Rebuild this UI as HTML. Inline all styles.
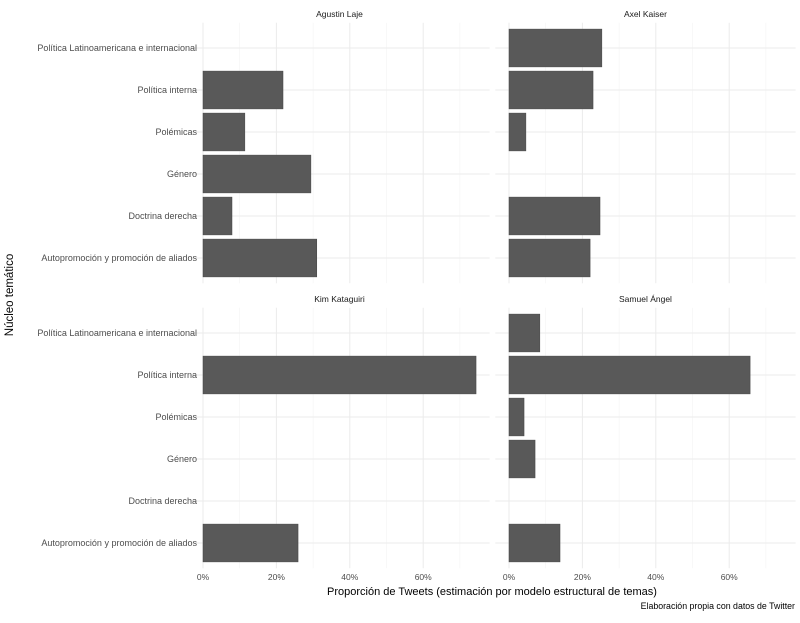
<!DOCTYPE html>
<html><head><meta charset="utf-8"><style>
body{margin:0;background:#fff;}
svg text{font-family:"Liberation Sans",sans-serif;}
</style></head><body>
<svg id="chart" width="800" height="618" xmlns="http://www.w3.org/2000/svg"></svg>
<script>
const categories=["Política Latinoamericana e internacional","Política interna","Polémicas","Género","Doctrina derecha","Autopromoción y promoción de aliados"];
const panels=["Agustin Laje","Axel Kaiser","Kim Kataguiri","Samuel Ángel"];
const valsAgustin=[0,21.8,11.4,29.4,7.9,31.0];
const valsAxel=[25.3,22.9,4.6,0,24.8,22.1];
const valsKim=[0,74.4,0,0,0,25.9];
const valsSamuel=[8.4,65.7,4.1,7.1,0,13.9];
const tickVals=[0,20,40,60];
const tickLabels=["0%","20%","40%","60%"];
const allVals=[valsAgustin,valsAxel,valsKim,valsSamuel];

const svg=document.getElementById('chart');
const NS='http://www.w3.org/2000/svg';
function mk(t,a,p){const e=document.createElementNS(NS,t);for(const k in a)e.setAttribute(k,a[k]);(p||svg).appendChild(e);return e;}
const pxPer=3.67;
const zeroX=[203,509,203,509];
const row0Y=[48,48,333,333];
const rowStep=42;
const xMin=-3.72,xMax=78.1;
function xs(p,v){return zeroX[p]+v*pxPer;}
function ys(p,i){return row0Y[p]+i*rowStep;}

for(let p=0;p<4;p++){
  const g=mk('g',{});
  
  
  const top=ys(p,0)-0.6*rowStep, bot=ys(p,5)+0.6*rowStep;
  const left=xs(p,xMin), right=xs(p,xMax);
  for(let v=0;v<=70;v+=10){
    const l=mk('line',{x1:xs(p,v),x2:xs(p,v),y1:top,y2:bot,stroke:v%20==0?'#ebebeb':'#f4f4f4','stroke-width':v%20==0?1:0.6},g);
    
    
  }
  categories.forEach((c,i)=>{
    const l=mk('line',{x1:left,x2:right,y1:ys(p,i),y2:ys(p,i),stroke:'#ebebeb','stroke-width':1},g);
    
    
  });
  allVals[p].forEach((v,i)=>{
    if(v<=0)return;
    const r=mk('rect',{x:xs(p,0),y:ys(p,i)-18.9,width:xs(p,v)-xs(p,0),height:37.8,fill:'#595959',stroke:'#444','stroke-width':0.5},g);
    
    
  });
  const st=mk('text',{x:(left+right)/2,y:top-6,'text-anchor':'middle','font-size':8.5,fill:'#1a1a1a'},g);
  st.textContent=panels[p];
  
  
  if(p%2==0){
    categories.forEach((c,i)=>{
      const t=mk('text',{x:197,y:ys(p,i)+3,'text-anchor':'end','font-size':9,fill:'#4d4d4d'},g);
      t.textContent=c;
      
      
    });
  }
  if(p>=2){
    tickVals.forEach((v,i)=>{
      const t=mk('text',{x:xs(p,v),y:580,'text-anchor':'middle','font-size':8.5,fill:'#4d4d4d'},g);
      t.textContent=tickLabels[i];
      
      
    });
  }
}
const xt=mk('text',{x:492,y:595,'text-anchor':'middle','font-size':11,fill:'#000'});
xt.textContent='Proporción de Tweets (estimación por modelo estructural de temas)';


const yt=mk('text',{x:0,y:0,'text-anchor':'middle','font-size':11.5,fill:'#000',transform:'translate(13,295) rotate(-90)'});
yt.textContent='Núcleo temático';


const cp=mk('text',{x:795,y:609,'text-anchor':'end','font-size':8.8,fill:'#000'});
cp.textContent='Elaboración propia con datos de Twitter';


</script>
</body></html>
